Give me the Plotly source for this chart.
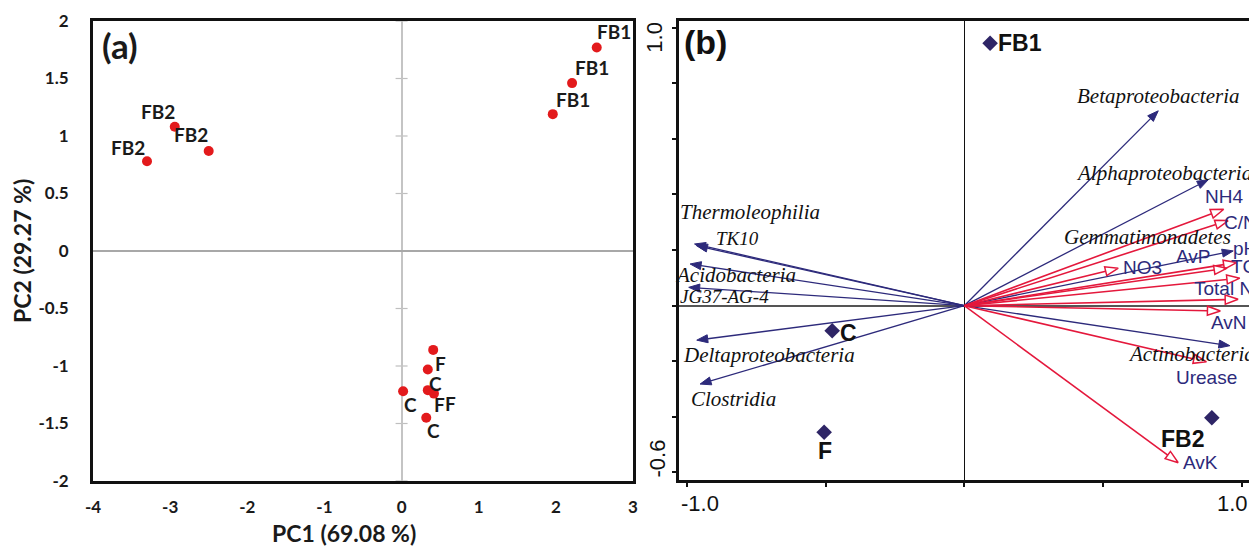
import math
import plotly.graph_objects as go

# ---------------- Panel (a): PCA scores ----------------
pca_labels = ["FB1", "FB1", "FB1", "FB2", "FB2", "FB2", "F", "F", "F", "C", "C", "C"]
pc1 = [2.53, 2.21, 1.96, -3.30, -2.94, -2.50, 0.41, 0.34, 0.42, 0.34, 0.02, 0.32]
pc2 = [1.77, 1.46, 1.19, 0.78, 1.08, 0.87, -0.86, -1.21, -1.24, -1.03, -1.22, -1.45]
pc1_ticks = [-4, -3, -2, -1, 0, 1, 2, 3]
pc1_ticktext = ["-4", "-3", "-2", "-1", "0", "1", "2", "3"]
pc2_ticks = [-2, -1.5, -1, -0.5, 0, 0.5, 1, 1.5, 2]
pc2_ticktext = ["-2", "-1.5", "-1", "-0.5", "0", "0.5", "1", "1.5", "2"]
pc1_title = "PC1 (69.08 %)"
pc2_title = "PC2 (29.27 %)"

# ---------------- Panel (b): RDA biplot ----------------
species = ["Betaproteobacteria", "Alphaproteobacteria", "Gemmatimonadetes", "Thermoleophilia",
           "TK10", "Acidobacteria", "JG37-AG-4", "Deltaproteobacteria", "Clostridia", "Actinobacteria"]
species_x = [0.699, 0.879, 0.969, -0.972, -0.965, -0.988, -0.993, -0.964, -0.952, 0.957]
species_y = [0.701, 0.453, 0.197, 0.222, 0.216, 0.150, 0.066, -0.124, -0.282, -0.144]

env = ["NH4", "C/N", "pH", "TC", "Total N", "AvP", "NO3", "AvN", "Urease", "AvK"]
env_x = [0.935, 0.951, 0.981, 0.947, 0.993, 0.987, 0.555, 0.923, 0.873, 0.771]
env_y = [0.347, 0.306, 0.155, 0.135, 0.099, 0.023, 0.135, -0.019, -0.202, -0.565]

sites = ["FB1", "C", "F", "FB2"]
site_x = [0.093, -0.476, -0.505, 0.892]
site_y = [0.944, -0.090, -0.455, -0.403]

rda_xticks = [-1.0, -0.5, 0.0, 0.5, 1.0]
rda_yticks = [-0.6, -0.4, -0.2, 0.0, 0.2, 0.4, 0.6, 0.8, 1.0]

# ---------------- styles / layout geometry ----------------
PAGE_W, PAGE_H = 1257, 549
OFF = 8                      # default page body margin
W, H = PAGE_W - OFF, PAGE_H - OFF
RED_A = "#e31a1c"
NAVY = "#2d2a7b"
DIAM = "#2e2566"
RED_B = "#e4183c"


def px(xp):
    return (xp - OFF) / W


def py(yp):
    return 1 - (yp - OFF) / H


# label pixel offsets (dx right, dy down)
pca_label_off = [(17, -16), (20, -16), (20, -15), (-19, -14), (-17, -15), (-18, -16),
                 (7, 14), (12, 14), (17, 10), (8, 14), (7, 13), (7, 13)]
species_label_off = [(0, -15), (-44, -7), (-86, -14), (55, -32), (41, -7), (45, 11),
                     (36, 9), (72, 15), (33, 15), (-38, 8)]
env_label_off = [(0, -13), (12, 2), (8, -14), (16, -2), (-16, 10), (-45, -43),
                 (24, -1), (9, 12), (0, 16), (22, 0)]
site_label_off = [(30, 0), (16, 2), (1, 19), (-29, 21)]

xa_dom = [px(93), px(633)]
ya_dom = [py(481), py(21)]
xb_dom = [px(679), px(1250)]
yb_dom = [py(480), py(21)]
xb_range = [-1.028, 1.0295]
yb_range = [-0.627, 1.024]
PXU = (xb_dom[1] - xb_dom[0]) * W / (xb_range[1] - xb_range[0])  # px per unit

fig = go.Figure()

# Panel (a) points
fig.add_trace(go.Scatter(x=pc1, y=pc2, mode="markers", xaxis="x", yaxis="y",
                         marker=dict(color=RED_A, size=10), showlegend=False, hoverinfo="skip"))


def arrow_parts(xs, ys, head_len_px, half_w_px):
    lx, ly, hx, hy = [], [], [], []
    L = head_len_px / PXU
    w = half_w_px / PXU
    for x, y in zip(xs, ys):
        n = math.hypot(x, y)
        ux, uy = x / n, y / n
        bx, by = x - ux * L, y - uy * L
        qx, qy = -uy, ux
        lx += [0, bx, None]
        ly += [0, by, None]
        hx += [x, bx + qx * w, bx - qx * w, x, None]
        hy += [y, by + qy * w, by - qy * w, y, None]
    return lx, ly, hx, hy


slx, sly, shx, shy = arrow_parts(species_x, species_y, 11, 4)
elx, ely, ehx, ehy = arrow_parts(env_x, env_y, 13, 4.5)

fig.add_trace(go.Scatter(x=slx, y=sly, mode="lines", xaxis="x2", yaxis="y2",
                         line=dict(color=NAVY, width=1.3), showlegend=False, hoverinfo="skip"))
fig.add_trace(go.Scatter(x=elx, y=ely, mode="lines", xaxis="x2", yaxis="y2",
                         line=dict(color=RED_B, width=1.6), showlegend=False, hoverinfo="skip"))
fig.add_trace(go.Scatter(x=shx, y=shy, mode="lines", xaxis="x2", yaxis="y2", fill="toself",
                         fillcolor=NAVY, line=dict(color=NAVY, width=1),
                         showlegend=False, hoverinfo="skip"))
fig.add_trace(go.Scatter(x=ehx, y=ehy, mode="lines", xaxis="x2", yaxis="y2", fill="toself",
                         fillcolor="white", line=dict(color=RED_B, width=1.5),
                         showlegend=False, hoverinfo="skip"))
fig.add_trace(go.Scatter(x=site_x, y=site_y, mode="markers", xaxis="x2", yaxis="y2",
                         marker=dict(symbol="diamond", color=DIAM, size=12),
                         showlegend=False, hoverinfo="skip"))

ann = []


def add_ann(**kw):
    kw.setdefault("showarrow", False)
    kw.setdefault("xanchor", "center")
    kw.setdefault("yanchor", "middle")
    ann.append(kw)


# Panel (a) labels
for t, x, y, (dx, dy) in zip(pca_labels, pc1, pc2, pca_label_off):
    add_ann(x=x, y=y, xref="x", yref="y", text=t, xshift=dx, yshift=-dy,
            font=dict(family="Lato", size=19, color="#1a1a1a", weight="bold"))
add_ann(x=px(344), y=py(533), xref="paper", yref="paper", text=pc1_title,
        font=dict(family="Lato", size=23, color="#1a1a1a", weight="bold"))
add_ann(x=px(22), y=py(251), xref="paper", yref="paper", text=pc2_title, textangle=-90,
        font=dict(family="Lato", size=23, color="#1a1a1a", weight="bold"))
add_ann(x=px(120), y=py(45), xref="paper", yref="paper", text="(a)",
        font=dict(family="Lato", size=35, color="#1a1a1a", weight="bold"))

# Panel (b) labels
for t, x, y, (dx, dy) in zip(species, species_x, species_y, species_label_off):
    add_ann(x=x, y=y, xref="x2", yref="y2", text="<i>" + t + "</i>", xshift=dx, yshift=-dy,
            font=dict(family="Liberation Serif", size=(19 if t in ("TK10", "JG37-AG-4") else 21),
                      color="#111111"))
for t, x, y, (dx, dy) in zip(env, env_x, env_y, env_label_off):
    add_ann(x=x, y=y, xref="x2", yref="y2", text=t, xshift=dx, yshift=-dy,
            font=dict(family="Liberation Sans", size=19, color=NAVY))
for t, x, y, (dx, dy) in zip(sites, site_x, site_y, site_label_off):
    add_ann(x=x, y=y, xref="x2", yref="y2", text=t, xshift=dx, yshift=-dy,
            font=dict(family="Liberation Sans", size=23, color="#111111", weight="bold"))
add_ann(x=px(705), y=py(42), xref="paper", yref="paper", text="(b)",
        font=dict(family="Liberation Sans", size=34, color="#111111", weight="bold"))
# Panel (b) end tick labels
add_ann(x=rda_xticks[0], y=py(503), xref="x2", yref="paper", text="-1.0", xshift=13,
        font=dict(family="Liberation Sans", size=22, color="#111111"))
add_ann(x=rda_xticks[-1], y=py(503), xref="x2", yref="paper", text="1.0", xshift=-9,
        font=dict(family="Liberation Sans", size=22, color="#111111"))
add_ann(x=px(655), y=rda_yticks[-1], xref="paper", yref="y2", text="1.0", yshift=-10,
        textangle=-90, font=dict(family="Liberation Sans", size=22, color="#111111"))
add_ann(x=px(657), y=rda_yticks[0], xref="paper", yref="y2", text="-0.6", yshift=14,
        textangle=-90, font=dict(family="Liberation Sans", size=22, color="#111111"))

# small tick marks crossing the PC1 = 0 line in panel (a)
shapes = []
for v in pc2_ticks:
    shapes.append(dict(type="line", xref="x", yref="y", xsizemode="pixel", xanchor=0,
                       x0=-6, x1=6, y0=v, y1=v, line=dict(color="#bfbfbf", width=1.2), layer="below"))

fig.update_layout(
    width=W, height=H, margin=dict(l=0, r=0, t=0, b=0, autoexpand=False),
    paper_bgcolor="white", plot_bgcolor="white",
    xaxis=dict(domain=xa_dom, range=[-4, 3], tickvals=pc1_ticks, ticktext=pc1_ticktext,
               showgrid=False, automargin=False,
               zeroline=True, zerolinecolor="#c4c4c4", zerolinewidth=1.5,
               showline=True, mirror=True, linecolor="#111111", linewidth=3,
               ticks="", ticklabelstandoff=9,
               tickfont=dict(family="Lato", size=17, color="#1a1a1a", weight="bold")),
    yaxis=dict(domain=ya_dom, range=[-2, 2], tickvals=pc2_ticks, ticktext=pc2_ticktext, showgrid=False,
               automargin=False,
               zeroline=True, zerolinecolor="#a8a8a8", zerolinewidth=1.5,
               showline=True, mirror=True, linecolor="#111111", linewidth=3,
               ticks="", ticklabelstandoff=18,
               tickfont=dict(family="Lato", size=17, color="#1a1a1a", weight="bold")),
    xaxis2=dict(domain=xb_dom, range=xb_range, anchor="y2", tickvals=rda_xticks, showticklabels=False,
                automargin=False,
                showgrid=False, zeroline=True, zerolinecolor="#111111", zerolinewidth=1,
                showline=True, mirror=True, linecolor="#111111", linewidth=2.5,
                ticks="outside", ticklen=4, tickwidth=1.5, tickcolor="#111111"),
    yaxis2=dict(domain=yb_dom, range=yb_range, anchor="x2", tickvals=rda_yticks, showticklabels=False,
                automargin=False,
                showgrid=False, zeroline=True, zerolinecolor="#555555", zerolinewidth=2,
                showline=True, mirror=True, linecolor="#111111", linewidth=2.5,
                ticks="outside", ticklen=4, tickwidth=1.5, tickcolor="#111111"),
    annotations=ann, shapes=shapes,
)

fig.write_html("out.html")
